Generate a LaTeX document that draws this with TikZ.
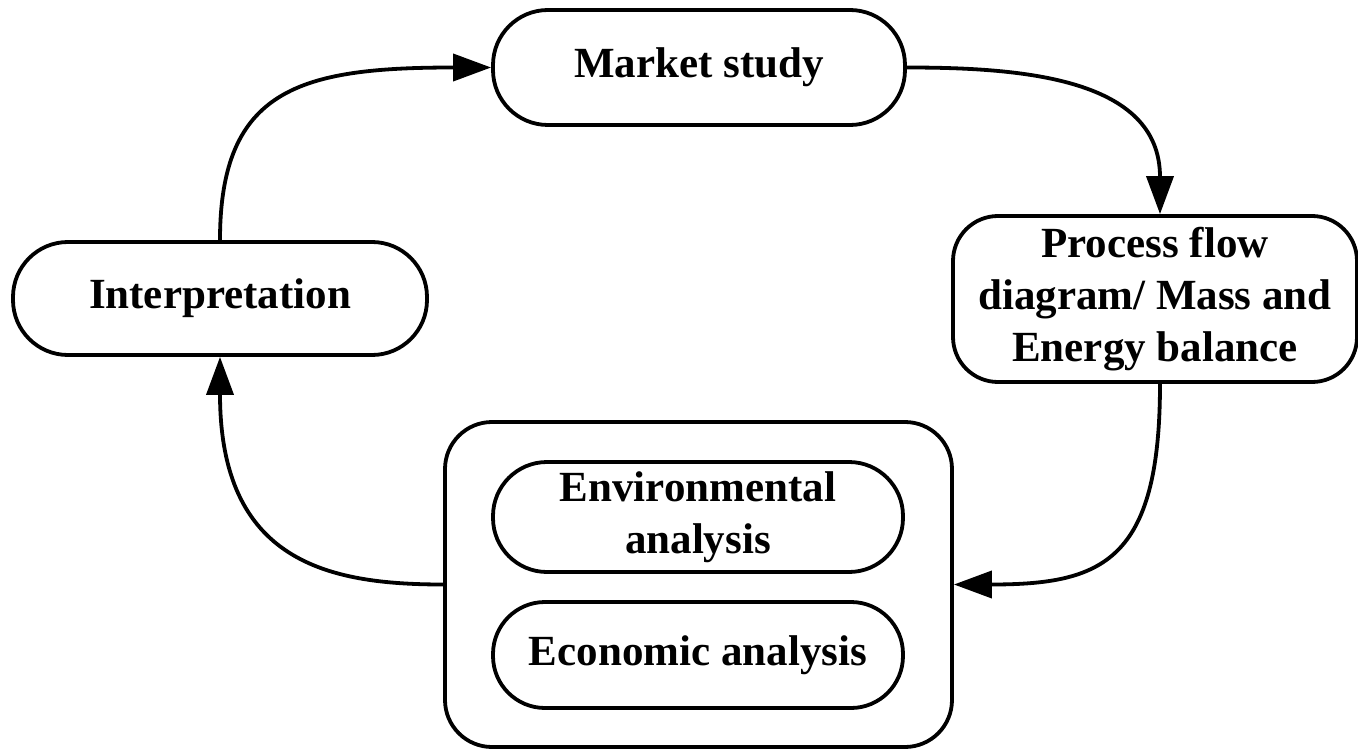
\documentclass[tikz,border=0pt]{standalone}
\usepackage{fontspec}
\setmainfont{Liberation Serif}
\usetikzlibrary{arrows.meta}
\begin{document}
\begin{tikzpicture}[x=1pt,y=-1pt,
  box/.style={draw, line width=3.8pt, rectangle, inner sep=0pt, align=center,
    font=\fontsize{43}{52}\selectfont\bfseries},
  flow/.style={draw, line width=3.8pt, -{Triangle[length=38pt,width=27pt]}}]
\useasboundingbox (0,0) rectangle (1358,749);
\node[box, minimum width=412pt, minimum height=115pt, rounded corners=55pt] (market) at (699,67.5) {Market study};
\node[box, minimum width=414pt, minimum height=113pt, rounded corners=55pt] (interp) at (220,298.5) {Interpretation};
\node[box, minimum width=404pt, minimum height=166pt, rounded corners=45pt] (proc) at (1155,299) {Process flow\\diagram/ Mass and\\Energy balance};
\node[box, minimum width=507pt, minimum height=325pt, rounded corners=47pt] (big) at (698.5,584.5) {};
\node[box, minimum width=410pt, minimum height=110pt, rounded corners=54pt] (env) at (698,517) {Environmental\\analysis};
\node[box, minimum width=410pt, minimum height=106pt, rounded corners=52pt] (econ) at (698,655) {Economic analysis};
\draw[flow] (interp.north) .. controls +(0,-152) and +(-190,0) .. (market.west);
\draw[flow] (market.east) .. controls +(115,0) and +(0,-136) .. ([xshift=5pt]proc.north);
\draw[flow] ([xshift=5pt]proc.south) .. controls +(0,178) and +(148,0) .. (big.east);
\draw[flow] (big.west) .. controls +(-115,0) and +(0,205) .. (interp.south);
\end{tikzpicture}
\end{document}
